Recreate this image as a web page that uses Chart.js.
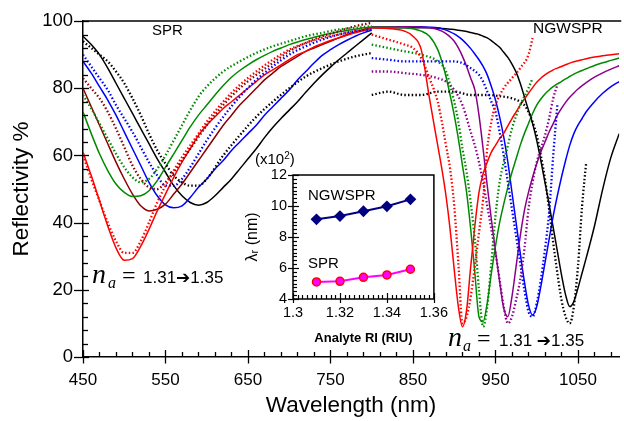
<!DOCTYPE html>
<html><head><meta charset="utf-8">
<script src="https://cdn.jsdelivr.net/npm/chart.js@4.4.1/dist/chart.umd.min.js"></script>
<style>
html,body{margin:0;padding:0;background:#fff;}
#wrap{position:relative;width:624px;height:421px;overflow:hidden;}
#main{position:absolute;left:0;top:0;}
#inset{position:absolute;left:243px;top:148px;}
.t{position:absolute;white-space:nowrap;line-height:1;color:#000;font-family:'Liberation Sans',Arial,'DejaVu Sans',sans-serif;}
.sv{font-family:'Liberation Serif','Times New Roman',serif;font-style:italic;}
.se{font-family:'Liberation Serif','Times New Roman',serif;}
.ar{font-family:'DejaVu Sans',sans-serif;font-weight:bold;font-size:17px;}
</style>
</head><body>
<div id="wrap">
<canvas id="main" width="624" height="421"></canvas>
<canvas id="inset" width="210" height="200"></canvas>
<div class="t" style="left:152px;top:22px;font-size:15px;">SPR</div>
<div class="t" style="left:533px;top:20px;font-size:15.5px;">NGWSPR</div>
<div class="t sv" style="left:92px;top:260px;font-size:28px;">n</div>
<div class="t sv" style="left:108px;top:275px;font-size:16px;">a</div>
<div class="t se" style="left:122px;top:263px;font-size:24px;">=</div>
<div class="t" style="left:143px;top:269px;font-size:17px;">1.31<span class="ar">➔</span>1.35</div>
<div class="t sv" style="left:448px;top:323px;font-size:28px;">n</div>
<div class="t sv" style="left:463px;top:338px;font-size:16px;">a</div>
<div class="t se" style="left:477px;top:326px;font-size:24px;">=</div>
<div class="t" style="left:499px;top:332px;font-size:17px;">1.31 <span class="ar">➔</span>1.35</div>
<div class="t" style="left:255px;top:151px;font-size:15px;">(x10<sup style="font-size:10px;vertical-align:5px;">2</sup>)</div>
<div class="t" style="left:308px;top:187px;font-size:15px;">NGWSPR</div>
<div class="t" style="left:308px;top:255px;font-size:15px;">SPR</div>
</div>
<script>
// ---------- Main chart data ----------
const sprX = [450,460,470,480,490,500,510,520,530,540,550,560,570,580,590,600,610,620,630,640,650,660,670,680,690,700,710,720,730,740,750,760,770,780,790,800];
const sprRed   = [61,54,46.5,39,32.5,28.8,29.3,33,38,43.5,48.5,53.5,58,62,66,69,71.5,74,76,78,80,82,84,85.5,87,88.5,90,91,92.3,93.3,94.2,95,95.8,96.5,97.2,97.8];
const sprGreen = [73,66.5,60.5,55.5,51.5,49,47.8,48,49.5,52.5,56.5,60.5,64.5,68.5,72,75,78,80.8,83.3,85.3,87,88.5,89.8,91,92,93,93.8,94.5,95.2,95.8,96.3,96.8,97.2,97.6,98,98.3];
const sprBrown = [80,74.5,69,63.5,58,53,48.5,45,43.5,44,45.5,48.5,51.5,55,58.5,62,65.5,69,72,75,77.5,80,82.5,84.5,86.5,88,89.5,91,92,93,94,95,96,96.8,97.5,98];
const sprBlue  = [88,84.5,80.5,76.5,72,67,62,57,52,48,45.3,44.4,45,47.5,50.5,53,56,58.5,61.5,64,66.5,69,72,74.5,77,79.5,82.5,85,87.5,89.8,91.5,93,94.3,95.5,96.5,97.3];
const sprBlack = [95.5,93,90,86,81.5,77,72.5,68,63.5,59,55,51,48,46,45.2,46,48,50.5,53,56,59,62,65.3,68.3,71,73.5,76,78.8,81.5,84,86.3,88.5,90.5,92.5,94.5,96.5];

const sprDotX = [450,460,470,480,490,500,510,520,530,540,550,560,570,580,590,600,620,640,660,680,700,720,740,760,780,800];
const sprDotRed   = [60,53,46.5,40,34.5,31,31,34.5,40,46,51,55.5,59.5,63,66.5,70,76,81,85,88.5,91.5,93.5,95,96,97,98];
const sprDotGreen = [78,74,69.5,65,60.5,56.5,53.5,52,53,56,60,64.5,69,73.5,77.5,80.5,85,88,90.5,92.5,94,95.5,96.5,97.5,98,98.5];
const sprDotBrown = [83,80,77,73,68,62.5,57,53,50.5,50,52,55,58.5,62,65.5,69,75,80,84,87.5,91,93.5,95.5,97,98.5,99.5];
const sprDotBlue  = [90,86.5,83,79.5,75,71,67,62.5,58,54,51,51,53,56.5,60.5,64.5,71.5,77.5,82.5,86.5,90,92.5,94.5,96,97,97.5];
const sprDotBlack = [94,92,90,88,85,81.5,77,72,66.5,61.5,57.5,54,52,51,51,53,60,66,71.5,76,80,83.5,86,88,89.5,90.5];

const ngwX = [800,820,840,850,860,870,880,885,890,895,900,905,910,915,920,925,930,935,940,945,950,955,960,965,970,975,980,985,990,995,1000,1005,1010,1015,1020,1025,1030,1035,1040,1045,1050,1055,1060,1070,1080,1090,1100];
const ngwRed    = [98,97.8,97,95.5,91.5,77,63,56,48,38,26,15,9,14,27,39,49,54.5,58,61,63,65,66.6,68.8,71,73,75,76.8,78.5,80.2,81.8,83,84,84.8,85.5,86,86.5,87,87.5,87.9,88.2,88.5,88.8,89.3,89.7,90,90.3];
const ngwGreen  = [98.2,98.2,98,97.7,97,95.5,91.5,88,83.5,78,72,65,57,49,38,25,12,10.5,16,25,33,40,45.5,50.5,55,59,63,66.5,69.5,72.5,75,76.8,78.3,79.5,80.5,81.3,82,82.8,83.5,84.2,84.8,85.3,85.8,86.8,87.6,88.3,89];
const ngwPurple = [98.3,98.3,98.3,98.3,98.2,98,97.5,97,96.3,95.3,94,92,89.5,86.5,83,79.5,72,62,51,41,31.5,22.5,14.5,12,18,27,36,43.5,49,53.5,57.5,61,64,67,69.5,72,74,75.8,77.3,78.6,79.8,80.8,81.7,83.3,84.6,85.7,86.7];
const ngwBlue   = [98.3,98.3,98.3,98.3,98.3,98.2,98,97.7,97.3,96.8,96.2,95.4,94.4,93.2,91.8,90.2,88.5,86.5,84,80.5,76.5,71.5,65.5,58,49,40,31,22.5,15.5,12.5,15,21,28,35,42,48,53.5,58.5,63,66.5,69,71,73,76,78.5,80.5,82];
const ngwBlack  = [98,98,98,98,98,98,97.9,97.8,97.7,97.6,97.5,97.3,97.1,96.9,96.6,96.3,96,95.5,95,94.2,93.2,92.2,90.7,89.2,87.2,84.8,81.5,77.5,73.5,69.5,64.5,58.5,52,45.5,38.5,31.5,24.5,18.5,15,16.5,20.5,25,29.5,39,50,59.5,66.5];

const ngwDotRedX    = [800,820,840,850,860,870,880,885,890,895,900,905,910,915,920,925,930,935,940,945,950,960,970,980,990,995];
const ngwDotRedY    = [96,94.5,93,92,89,83,76,70,63,56,45,28,10,12,18,27,37,47,62,70,75,80,83,86,90,95];
const ngwDotGreenX  = [800,820,840,860,880,890,900,905,910,915,920,925,930,935,940,945,950,955,960,965,970,980,990,995];
const ngwDotGreenY  = [93,92,91,90,88,85,76,70,62,55,46,35,20,9,15,28,42,52,58,63,68,75,80,83];
const ngwDotPurpleX = [800,820,840,860,880,890,900,910,920,925,930,935,940,945,950,955,960,965,970,975,980,985,990,995,1000,1005,1010,1015,1020,1025];
const ngwDotPurpleY = [85,85,84.5,84,83,82,79.5,75,67,63,58,52,45,38,31,23,15,10,12,17,23,32,44,52,58,62,66,71,77,81];
const ngwDotBlueX   = [800,820,840,860,880,900,910,920,930,935,940,945,950,955,960,965,970,975,980,985,990,995,1000,1005,1010,1015,1020,1025];
const ngwDotBlueY   = [89,88.5,88,88,88,88,87.5,86,84,82,79,76,73,67,60,52,44,36,28,20,13.5,12,16,23,32,43,60,75];
const ngwDotBlackX  = [800,820,840,860,880,900,920,940,960,970,980,985,990,995,1000,1005,1010,1015,1020,1025,1030,1035,1040,1045,1050,1055,1060];
const ngwDotBlackY  = [78,79,78,78,79,79,78,78,77.5,77,76,75,73,70,66,60,53,44,34,25,17,12,10,15,27,45,58];

// tick labels
const xMajor = [450,550,650,750,850,950,1050];
const yMajor = [0,20,40,60,80,100];

// ---------- Inset data ----------
const riX = [1.31,1.32,1.33,1.34,1.35];
const ngwRes = [9.14,9.35,9.66,9.98,10.43];
const sprRes = [5.10,5.14,5.40,5.55,5.92];
const insetXMajor = [1.3,1.32,1.34,1.36];
const insetYMajor = [4,6,8,10,12];

// ---------- build ----------
const C = {red:'#ff0000',green:'#008a00',brown:'#8b0000',blue:'#0000ff',black:'#000000',purple:'#8a008a'};
const pts = (xs, ys) => xs.map((x, i) => ({x: x, y: ys[i]}));
const solid = (d, c) => ({data: d, borderColor: c, borderWidth: 1.5, pointRadius: 0, fill: false, cubicInterpolationMode: 'monotone'});
const dotted = (d, c) => ({data: d, borderColor: c, borderWidth: 2.3, borderDash: [1.5, 2.2], pointRadius: 0, fill: false, cubicInterpolationMode: 'monotone'});

const datasets = [
  dotted(pts(sprDotX, sprDotRed), C.red),
  dotted(pts(sprDotX, sprDotGreen), C.green),
  dotted(pts(sprDotX, sprDotBrown), C.brown),
  dotted(pts(sprDotX, sprDotBlue), C.blue),
  dotted(pts(sprDotX, sprDotBlack), C.black),
  dotted(pts(ngwDotRedX, ngwDotRedY), C.red),
  dotted(pts(ngwDotGreenX, ngwDotGreenY), C.green),
  dotted(pts(ngwDotPurpleX, ngwDotPurpleY), C.purple),
  dotted(pts(ngwDotBlueX, ngwDotBlueY), C.blue),
  dotted(pts(ngwDotBlackX, ngwDotBlackY), C.black),
  solid(pts(sprX, sprRed), C.red),
  solid(pts(sprX, sprGreen), C.green),
  solid(pts(sprX, sprBrown), C.brown),
  solid(pts(sprX, sprBlue), C.blue),
  solid(pts(sprX, sprBlack), C.black),
  solid(pts(ngwX, ngwRed), C.red),
  solid(pts(ngwX, ngwGreen), C.green),
  solid(pts(ngwX, ngwPurple), C.purple),
  solid(pts(ngwX, ngwBlue), C.blue),
  solid(pts(ngwX, ngwBlack), C.black)
];

const xTickVals = []; for (let v = 450; v < 1100; v += 20) xTickVals.push(v);
const yTickVals = []; for (let v = 0; v <= 100; v += 4) yTickVals.push(v);

Chart.defaults.font.family = "'Liberation Sans', Arial, sans-serif";
Chart.defaults.color = '#000';

const mainTicks = {
  id: 'mainTicks',
  afterDraw(chart) {
    const ctx = chart.ctx, a = chart.chartArea, sx = chart.scales.x, sy = chart.scales.y;
    ctx.save();
    ctx.strokeStyle = '#000'; ctx.lineWidth = 1.3;
    xTickVals.forEach(v => {
      const p = Math.round(sx.getPixelForValue(v)) + 0.5, M = xMajor.includes(v);
      ctx.beginPath(); ctx.moveTo(p, a.bottom - (M ? 7 : 5)); ctx.lineTo(p, a.bottom + (M ? 6.5 : 0)); ctx.stroke();
    });
    yTickVals.forEach(v => {
      const p = Math.round(sy.getPixelForValue(v)) + 0.5, M = yMajor.includes(v);
      ctx.beginPath(); ctx.moveTo(a.left - (M ? 9 : 0), p); ctx.lineTo(a.left + (M ? 6 : 5), p); ctx.stroke();
    });
    ctx.lineWidth = 1.5;
    ctx.beginPath(); ctx.moveTo(a.left, a.top); ctx.lineTo(a.right + 2, a.top); ctx.stroke();
    ctx.restore();
  }
};

new Chart(document.getElementById('main'), {
  type: 'line',
  data: {datasets: datasets},
  plugins: [mainTicks],
  options: {
    responsive: false, animation: false, devicePixelRatio: 1,
    layout: {padding: {left: 0, right: 2, top: 16, bottom: 0}},
    plugins: {legend: {display: false}, tooltip: {enabled: false}},
    scales: {
      x: {
        type: 'linear', min: 450, max: 1100, position: 'bottom',
        afterBuildTicks: s => { s.ticks = xTickVals.map(v => ({value: v})); },
        afterFit: s => { s.height = 64; },
        grid: {display: false, drawTicks: false},
        border: {display: true, color: '#000', width: 1.5},
        ticks: {autoSkip: false, maxRotation: 0, padding: 13, font: {size: 17}, color: '#000',
          callback: v => xMajor.includes(v) ? String(v) : ''},
        title: {display: true, text: 'Wavelength (nm)', font: {size: 22.5}, color: '#000', padding: {top: 0, bottom: 2}}
      },
      y: {
        type: 'linear', min: 0, max: 100, position: 'left',
        afterBuildTicks: s => { s.ticks = yTickVals.map(v => ({value: v})); },
        afterFit: s => { s.width = 83; },
        grid: {display: false, drawTicks: false},
        border: {display: true, color: '#000', width: 1.5},
        ticks: {autoSkip: false, padding: 10, font: {size: 18.5}, color: '#000',
          callback: v => yMajor.includes(v) ? String(v) : ''},
        title: {display: true, text: 'Reflectivity %', font: {size: 22.5}, color: '#000', padding: {top: 8, bottom: 0}}
      }
    }
  }
});

// ---------- inset ----------
const ixTicks = []; for (let i = 0; i <= 30; i++) ixTicks.push(Math.round((1.3 + i * 0.002) * 1000) / 1000);
const iyTicks = []; for (let i = 0; i <= 32; i++) iyTicks.push(4 + i * 0.25);
const isMajor = (arr, v) => arr.some(m => Math.abs(m - v) < 1e-9);

const insetFrame = {
  id: 'insetFrame',
  afterDraw(chart) {
    const ctx = chart.ctx, a = chart.chartArea, sx = chart.scales.x, sy = chart.scales.y;
    ctx.save();
    ctx.strokeStyle = '#000'; ctx.lineWidth = 1.5;
    ctx.strokeRect(a.left, a.top, a.right - a.left, a.bottom - a.top);
    ctx.lineWidth = 1.2;
    ixTicks.forEach(v => {
      const p = Math.round(sx.getPixelForValue(v)) + 0.5, M = isMajor(insetXMajor, v);
      ctx.beginPath(); ctx.moveTo(p, a.bottom - (M ? 6 : 4)); ctx.lineTo(p, a.bottom + (M ? 4 : 0)); ctx.stroke();
    });
    iyTicks.forEach(v => {
      const p = Math.round(sy.getPixelForValue(v)) + 0.5, M = isMajor(insetYMajor, v);
      ctx.beginPath(); ctx.moveTo(a.left - (M ? 5 : 0), p); ctx.lineTo(a.left + (M ? 6 : 4), p); ctx.stroke();
    });
    ctx.restore();
  }
};

new Chart(document.getElementById('inset'), {
  type: 'line',
  data: {datasets: [
    {data: pts(riX, ngwRes), borderColor: '#000080', backgroundColor: '#000080', borderWidth: 2,
     pointStyle: 'rectRot', pointRadius: 4.5, pointBorderColor: '#000080', pointBackgroundColor: '#000080', tension: 0},
    {data: pts(riX, sprRes), borderColor: '#ff00ff', backgroundColor: '#ff00ff', borderWidth: 2,
     pointStyle: 'circle', pointRadius: 4, pointBorderColor: '#ff0000', pointBorderWidth: 1.5, pointBackgroundColor: '#ff00ff', tension: 0}
  ]},
  plugins: [insetFrame],
  options: {
    responsive: false, animation: false, devicePixelRatio: 1,
    layout: {padding: {left: 0, right: 14, top: 27, bottom: 0}},
    plugins: {legend: {display: false}, tooltip: {enabled: false}},
    scales: {
      x: {
        type: 'linear', min: 1.3, max: 1.36,
        afterBuildTicks: s => { s.ticks = ixTicks.map(v => ({value: v})); },
        afterFit: s => { s.height = 49; },
        grid: {display: false, drawTicks: false},
        border: {display: false},
        ticks: {autoSkip: false, maxRotation: 0, padding: 5, font: {size: 14.5}, color: '#000',
          callback: v => isMajor(insetXMajor, v) ? String(Math.round(v * 100) / 100) : ''},
        title: {display: true, text: 'Analyte RI (RIU)', font: {size: 13, weight: 'bold'}, color: '#000', padding: {top: 0, bottom: 2}}
      },
      y: {
        type: 'linear', min: 4, max: 12,
        afterBuildTicks: s => { s.ticks = iyTicks.map(v => ({value: v})); },
        afterFit: s => { s.width = 50; },
        grid: {display: false, drawTicks: false},
        border: {display: false},
        ticks: {autoSkip: false, padding: 6, font: {size: 14.5}, color: '#000',
          callback: v => isMajor(insetYMajor, v) ? String(v) : ''},
        title: {display: true, text: 'λᵣ (nm)', font: {size: 16}, color: '#000', padding: {top: 0, bottom: 0}}
      }
    }
  }
});
</script>
</body></html>
